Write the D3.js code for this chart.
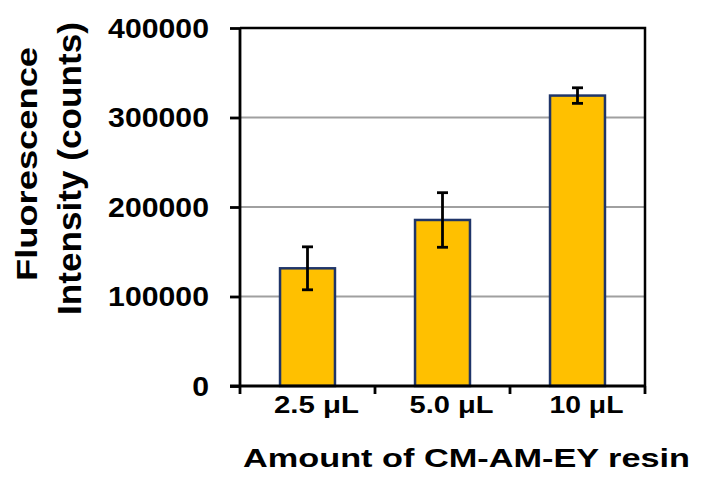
<!DOCTYPE html>
<html><head><meta charset="utf-8">
<script src="https://cdn.jsdelivr.net/npm/d3@7"></script>
<style>body{margin:0;background:#fff}svg{display:block}text{font-family:Arial,"Liberation Sans",sans-serif;font-weight:bold;fill:#000}</style>
</head><body><svg id="c" width="706" height="477"></svg>
<script>
const categories = ["2.5 \u03bcL", "5.0 \u03bcL", "10 \u03bcL"];
const values = [131500, 185500, 324500];
const errors = [24000, 30500, 8700];
const yTicks = [0, 100000, 200000, 300000, 400000];
const yTitle = ["Fluorescence", "Intensity (counts)"];
const xTitle = "Amount of CM-AM-EY resin";

const svg = d3.select("#c");
const L = 240, R = 645, T = 28, B = 386;
const x = d3.scaleBand().domain(categories).range([L, R]).padding(0);
const y = d3.scaleLinear().domain([0, 400000]).range([B, T]);
const SX = 1.12;

// gridlines
svg.append("g").selectAll("line").data(yTicks.filter(d => d > 0 && d < 400000)).join("line")
  .attr("x1", L).attr("x2", R).attr("y1", d => y(d)).attr("y2", d => y(d))
  .attr("stroke", "#a0a0a0").attr("stroke-width", 2);

// bars
const bw = x.bandwidth() * 0.407;
svg.append("g").selectAll("rect").data(categories).join("rect")
  .attr("x", d => x(d) + (x.bandwidth() - bw) / 2)
  .attr("y", (d, i) => y(values[i]))
  .attr("width", bw)
  .attr("height", (d, i) => B - y(values[i]))
  .attr("fill", "#FFC000").attr("stroke", "#1F3569").attr("stroke-width", 2.5);

// error bars
const eg = svg.append("g").attr("stroke", "#000").attr("stroke-width", 2.8);
categories.forEach((c, i) => {
  const cx = x(c) + x.bandwidth() / 2;
  eg.append("line").attr("x1", cx).attr("x2", cx).attr("y1", y(values[i] + errors[i])).attr("y2", y(values[i] - errors[i]));
  [values[i] + errors[i], values[i] - errors[i]].forEach(v =>
    eg.append("line").attr("x1", cx - 5.5).attr("x2", cx + 5.5).attr("y1", y(v)).attr("y2", y(v)));
});

// frame (top & right)
svg.append("path").attr("d", `M${L},${T}H${R}V${B}`).attr("fill", "none").attr("stroke", "#000").attr("stroke-width", 2.5);

// y axis
const ya = svg.append("g").attr("transform", `translate(${L},0)`)
  .call(d3.axisLeft(y).tickValues(yTicks).tickSize(10).tickFormat(""));
ya.selectAll("path,line").attr("stroke", "#000").attr("stroke-width", 2.8);
ya.select(".domain").attr("d", `M0,${T}V${B}`);

// x axis with boundary ticks
const xa = svg.append("g").attr("transform", `translate(0,${B})`)
  .call(d3.axisBottom(x).tickSize(0).tickFormat(""));
xa.select(".domain").attr("d", `M${L - 10},0H${R}`).attr("stroke", "#000").attr("stroke-width", 2.8);
const bounds = d3.range(categories.length + 1).map(i => L + i * x.step());
svg.append("g").selectAll("line").data(bounds).join("line")
  .attr("x1", d => d).attr("x2", d => d).attr("y1", B).attr("y2", B + 8)
  .attr("stroke", "#000").attr("stroke-width", 2.8);

// y tick labels
svg.append("g").selectAll("g").data(yTicks).join("g")
  .attr("transform", d => `translate(209,${y(d)}) scale(${SX},1)`)
  .append("text").attr("text-anchor", "end").attr("dy", "0.36em").attr("font-size", 27)
  .text(d => d);

// x tick labels
const xlw = [85, 84, 74];
svg.append("g").selectAll("text").data(categories).join("text")
  .attr("x", d => x(d) + x.bandwidth() / 2 + 9).attr("y", 413)
  .attr("text-anchor", "middle").attr("font-size", 24)
  .attr("textLength", (d, i) => xlw[i]).attr("lengthAdjust", "spacingAndGlyphs")
  .text(d => d);

// x title
svg.append("text").attr("x", 466.5).attr("y", 466.5).attr("text-anchor", "middle")
  .attr("font-size", 26).attr("textLength", 447).attr("lengthAdjust", "spacingAndGlyphs")
  .text(xTitle);

// y title
const yt = [{t: yTitle[0], bx: 37, cy: 164, len: 234, fs: 30}, {t: yTitle[1], bx: 81, cy: 168.5, len: 293, fs: 33}];
svg.append("g").selectAll("text").data(yt).join("text")
  .attr("transform", d => `translate(${d.bx},${d.cy}) rotate(-90)`)
  .attr("text-anchor", "middle").attr("font-size", d => d.fs)
  .attr("textLength", d => d.len).attr("lengthAdjust", "spacingAndGlyphs")
  .text(d => d.t);
</script></body></html>
